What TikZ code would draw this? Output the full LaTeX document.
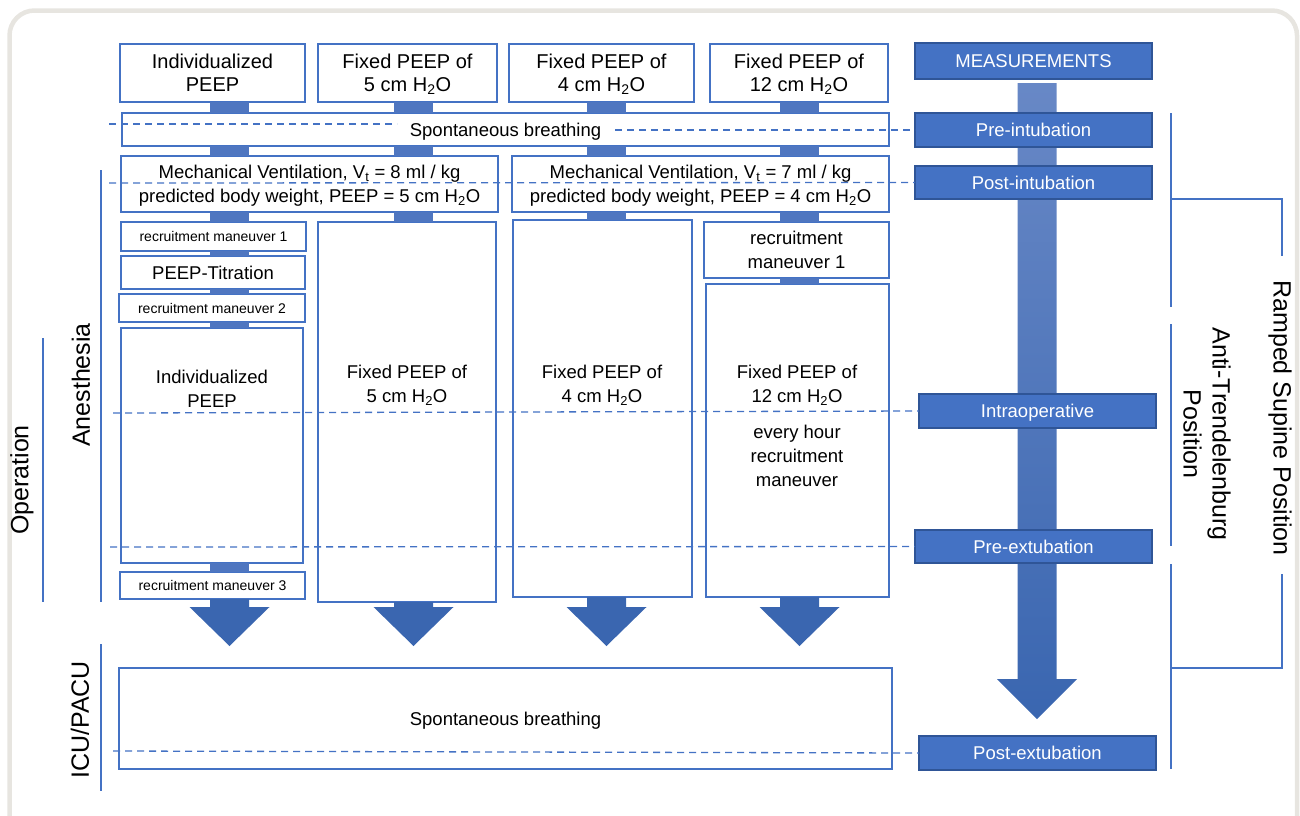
\documentclass[tikz,border=0pt]{standalone}
\usepackage{fontspec}
\setmainfont{Liberation Sans}
\usetikzlibrary{calc}
\definecolor{bblue}{RGB}{68,114,196}
\definecolor{mfill}{RGB}{68,114,196}
\definecolor{mdraw}{RGB}{47,85,151}
\definecolor{barc}{RGB}{79,118,192}
\definecolor{arrc}{RGB}{58,102,176}
\definecolor{arrtop}{RGB}{104,136,198}
\definecolor{framec}{RGB}{231,229,224}
\newcommand\rbox[7][stdbox]{\node[#1,minimum width={#4-#2},minimum height={#5-#3}] (#6) at ({(#2+#4)/2},{(#3+#5)/2}) {#7};}
\newcommand\barlink[3]{\fill[barc] ($(#2.south -| #1)+(-19.5,0)$) rectangle ($(#3.north -| #1)+(19.5,0)$);}
\newcommand\downarr[2]{\fill[arrc] ($(#2.south -| #1)+(-19.5,0)$) -- ($(#1)+(-19.5,607)$) -- ($(#1)+(-40,607)$) -- ($(#1)+(0,646)$) -- ($(#1)+(40,607)$) -- ($(#1)+(19.5,607)$) -- ($(#2.south -| #1)+(19.5,0)$) -- cycle;}
\newcommand\fs[2]{\fontsize{#1}{#2}\selectfont}
\begin{document}
\begin{tikzpicture}[x=1pt,y=-1pt,
  stdbox/.style={draw=bblue,line width=1.6pt,fill=white,inner sep=0pt,outer sep=0pt,align=center,text depth=0pt,font=\fs{18.5}{24}},
  topbox/.style={stdbox,font=\fs{20}{23}},
  smallbox/.style={stdbox,font=\fs{14}{17}},
  meas/.style={draw=mdraw,fill=mfill,line width=1.2pt,text=white,inner sep=0pt,outer sep=0pt,text depth=0pt,font=\fs{18.5}{24}},
  lbl/.style={align=center,inner sep=0pt,font=\fs{18.5}{24}},
  dashline/.style={draw=bblue,line width=1.3pt,dash pattern=on 7pt off 5pt},
  bracket/.style={draw=bblue,line width=1.4pt},
  side/.style={align=center,inner sep=0pt,font=\fs{25}{29}}]
\useasboundingbox (0,0) rectangle (1300,815);
\begin{scope}
\clip (0,0) rectangle (1300,815);
\draw[framec,line width=4.5pt,rounded corners=25pt] (9.5,10.5) rectangle (1297,850);
\end{scope}
% column coordinates
\coordinate (c1) at (229.5,0);
\coordinate (c2) at (413.5,0);
\coordinate (c3) at (606.5,0);
\coordinate (c4) at (799.5,0);
\coordinate (mc) at (1037,0);
% measurement arrow
\node[meas,minimum width=237,minimum height=36] (measT) at (1033.5,61) {MEASUREMENTS};
\shade[top color=arrtop,bottom color=arrc] ($(measT.south -| mc)+(-19.5,4)$) -- ($(mc)+(-19.5,679)$) -- ($(mc)+(-40,679)$) -- ($(mc)+(0,719)$) -- ($(mc)+(40,679)$) -- ($(mc)+(19.5,679)$) -- ($(measT.south -| mc)+(19.5,4)$) -- cycle;
\rbox[meas]{915}{113}{1152}{147}{preint}{Pre-intubation}
\rbox[meas]{915}{166}{1152}{199}{postint}{Post-intubation}
\rbox[meas]{919}{394}{1156}{428}{intra}{Intraoperative}
\rbox[meas]{915}{530}{1152}{563}{preext}{Pre-extubation}
\rbox[meas]{919}{736}{1156}{770}{postext}{Post-extubation}
% boxes
\rbox[topbox]{120}{44}{305}{102}{top1}{Individualized\\PEEP}
\rbox[topbox]{318}{44}{497}{102}{top2}{Fixed PEEP of\\5 cm H\textsubscript{2}O}
\rbox[topbox]{509}{44}{694}{102}{top3}{Fixed PEEP of\\4 cm H\textsubscript{2}O}
\rbox[topbox]{710}{44}{888}{102}{top4}{Fixed PEEP of\\12 cm H\textsubscript{2}O}
\rbox{122}{113}{889}{146}{spont}{Spontaneous breathing}
\rbox{121}{156}{498}{212}{mv1}{Mechanical Ventilation, V\textsubscript{t} = 8 ml / kg\\predicted body weight, PEEP = 5 cm H\textsubscript{2}O}
\rbox{512}{156}{889}{212}{mv2}{Mechanical Ventilation, V\textsubscript{t} = 7 ml / kg\\predicted body weight, PEEP = 4 cm H\textsubscript{2}O}
\rbox[smallbox]{121}{222}{306}{251}{rma}{recruitment maneuver 1}
\rbox{121}{256}{305}{289}{titr}{PEEP-Titration}
\rbox[smallbox]{119}{294}{305}{322}{rmb}{recruitment maneuver 2}
\rbox{121}{328}{303}{563}{ip}{}
\rbox[smallbox]{120}{572}{305}{599}{rmc}{recruitment maneuver 3}
\rbox{318}{222}{496}{602}{fp5}{}
\rbox{513}{220}{692}{597}{fp4}{}
\rbox{704}{222}{889}{278}{rmd}{recruitment\\maneuver 1}
\rbox{706}{284}{889}{597}{fp12}{}
\rbox{119}{668}{892}{769}{post}{Spontaneous breathing}
\node[lbl] (ipl) at (212,389) {Individualized\\PEEP};
\node[lbl] (fp5l) at (407,385) {Fixed PEEP of\\5 cm H\textsubscript{2}O};
\node[lbl] (fp4l) at (602,385) {Fixed PEEP of\\4 cm H\textsubscript{2}O};
\node[lbl] (fp12l) at (797,385) {Fixed PEEP of\\12 cm H\textsubscript{2}O};
\node[lbl] (fp12m) at (797,456) {every hour\\recruitment\\maneuver};
% connector bars
\barlink{c1}{top1}{spont}
\barlink{c2}{top2}{spont}
\barlink{c3}{top3}{spont}
\barlink{c4}{top4}{spont}
\barlink{c1}{spont}{mv1}
\barlink{c2}{spont}{mv1}
\barlink{c3}{spont}{mv2}
\barlink{c4}{spont}{mv2}
\barlink{c1}{mv1}{rma}
\barlink{c2}{mv1}{fp5}
\barlink{c3}{mv2}{fp4}
\barlink{c4}{mv2}{rmd}
\barlink{c1}{rma}{titr}
\barlink{c1}{titr}{rmb}
\barlink{c1}{rmb}{ip}
\barlink{c1}{ip}{rmc}
\barlink{c4}{rmd}{fp12}
% down arrows
\downarr{c1}{rmc}
\downarr{c2}{fp5}
\downarr{c3}{fp4}
\downarr{c4}{fp12}
% dashed lines
\coordinate (d1a) at (109,124);
\coordinate (d1b) at (397,124);
\coordinate (d1c) at (615,130);
\coordinate (d2) at (109,183);
\coordinate (d3) at (113,413);
\coordinate (d4) at (110,547);
\coordinate (d5) at (113,751);
\draw[dashline] (d1a) -- (d1b);
\draw[dashline] (d1c) -- (preint.west);
\draw[dashline] (d2) -- (postint.west);
\draw[dashline] (d3) -- (intra.west);
\draw[dashline] (d4) -- (preext.west);
\draw[dashline] (d5) -- (postext.west);
% left phase labels
\draw[bracket] (43,338) -- (43,602);
\draw[bracket] (101,170) -- (101,602);
\draw[bracket] (101,644) -- (101,791);
\node[side,rotate=90] (op) at (22,480) {Operation};
\node[side,rotate=90] (an) at (81,385) {Anesthesia};
\node[side,rotate=90] (icu) at (80,720) {ICU/PACU};
% right position brackets
\draw[bracket] (1171,113) -- (1171,307);
\draw[bracket] (1171,324) -- (1171,546);
\draw[bracket] (1171,564) -- (1171,769);
\draw[bracket] (1171,199) -- (1282,199) -- (1282,256);
\draw[bracket] (1282,574) -- (1282,668) -- (1171,668);
\node[side,rotate=-90] (ramp) at (1280,418) {Ramped Supine Position};
\node[side,rotate=-90] (anti) at (1207,434) {Anti-Trendelenburg\\Position};
\end{tikzpicture}
\end{document}
